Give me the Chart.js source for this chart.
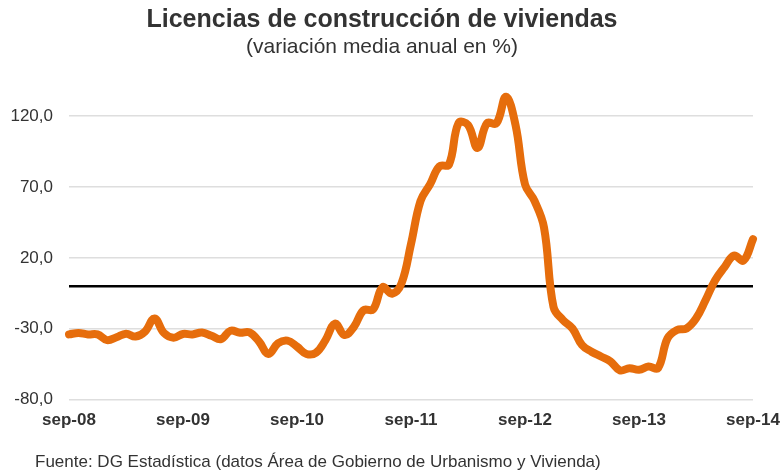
<!DOCTYPE html>
<html>
<head>
<meta charset="utf-8">
<script src="https://cdn.jsdelivr.net/npm/chart.js@4"></script>
<style>
  body { margin: 0; background: #fff; }
  #wrap { position: relative; width: 780px; height: 471px; }
  #source {
    position: absolute; left: 35px; top: 452px;
    font: 17px "Liberation Sans", Arial, sans-serif; color: #333;
  }
</style>
</head>
<body>
<div id="wrap">
  <canvas id="chart" width="780" height="471"></canvas>
  <div id="source">Fuente: DG Estadística (datos Área de Gobierno de Urbanismo y Vivienda)</div>
</div>
<script>
const months = ["ene", "feb", "mar", "abr", "may", "jun", "jul", "ago", "sep", "oct", "nov", "dic"];
const years = ["08", "09", "10", "11", "12", "13", "14"];

// variación media anual (%), sep-08 .. sep-14
const licencias = [
  -34, -33, -34, -34, -38, -36, -33.5, -35.5, -32, -22.7, -33, -36.3,
  -33.7, -34, -32.6, -35, -37.3, -31.4, -32.8, -32.6, -39, -47.8, -40.3, -38.4,
  -42.6, -47.8, -46.9, -38, -26.3, -34.4, -28.6, -16.9, -16.4, -0.7, -5.3, 2,
  29.8, 60.2, 71.9, 84.7, 85.9, 115.1, 113.9, 97.6, 115.1, 115, 133.8, 113.9,
  71.9, 60.2, 41.5, -14.6, -23.9, -29.8, -41.5, -46.2, -49.6, -53.1, -59.4, -57.8,
  -59, -56.6, -57.8, -36.8, -30.9, -29.8, -22.8, -9.9, 4.1, 13.5, 21.6, 18.1,
  33.3
];

const labels = [];
for (let i = 0; i < licencias.length; i++) {
  const m = (8 + i) % 12;
  const y = years[Math.floor((8 + i) / 12)];
  labels.push(months[m] + "-" + y);
}

const fontFamily = '"Liberation Sans", Arial, sans-serif';

const zeroLine = {
  id: "zeroLine",
  beforeDatasetsDraw(chart) {
    const { ctx, chartArea, scales } = chart;
    const y = scales.y.getPixelForValue(0);
    ctx.save();
    ctx.strokeStyle = "#000";
    ctx.lineWidth = 2.5;
    ctx.beginPath();
    ctx.moveTo(chartArea.left, y);
    ctx.lineTo(chartArea.right, y);
    ctx.stroke();
    ctx.restore();
  }
};

const ctx = document.getElementById("chart").getContext("2d");

new Chart(ctx, {
  type: "line",
  data: {
    labels: labels,
    datasets: [{
      data: licencias,
      borderColor: "#e66d0c",
      borderWidth: 8,
      pointRadius: 0,
      tension: 0.4,
      borderCapStyle: "round",
      borderJoinStyle: "round",
      clip: false
    }]
  },
  options: {
    responsive: false,
    animation: false,
    layout: { padding: { left: 11, right: 27, top: 0, bottom: 29 } },
    plugins: {
      legend: { display: false },
      tooltip: { enabled: false },
      title: {
        display: true,
        text: "Licencias de construcción de viviendas",
        color: "#333",
        font: { family: fontFamily, size: 25, weight: "bold" },
        padding: { top: 5, bottom: 0 }
      },
      subtitle: {
        display: true,
        text: "(variación media anual en %)",
        color: "#333",
        font: { family: fontFamily, size: 21 },
        padding: { top: 0, bottom: 56 }
      }
    },
    scales: {
      x: {
        offset: false,
        grid: { display: false, drawTicks: false },
        border: { display: false },
        ticks: {
          autoSkip: false,
          maxRotation: 0,
          padding: 11,
          color: "#333",
          font: { family: fontFamily, size: 17, weight: "bold" },
          callback: (v, i) => (i % 12 === 0 ? labels[i] : "")
        },
        afterFit: s => { s.paddingLeft = 0; s.paddingRight = 0; }
      },
      y: {
        min: -80,
        max: 120,
        grid: { color: "#dedede", lineWidth: 1.5, drawTicks: false },
        border: { display: false },
        ticks: {
          stepSize: 50,
          padding: 16,
          color: "#333",
          font: { family: fontFamily, size: 17 },
          callback: v => v.toFixed(1).replace(".", ",")
        },
        afterFit: s => { s.width = 58; }
      }
    }
  },
  plugins: [zeroLine]
});
</script>
</body>
</html>
